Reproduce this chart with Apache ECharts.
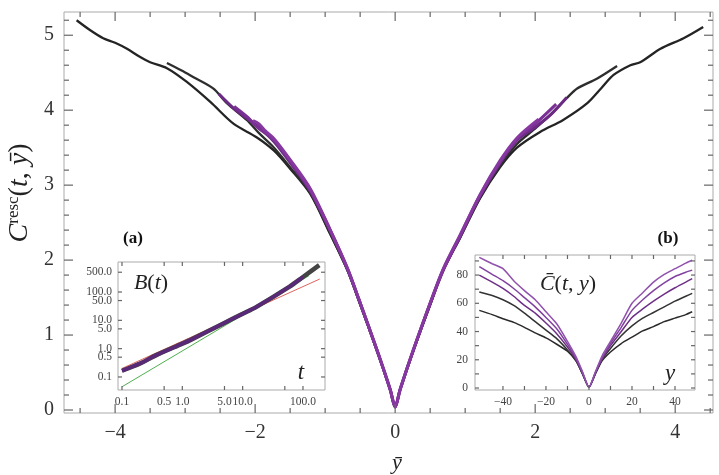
<!DOCTYPE html>
<html><head><meta charset="utf-8">
<script src="https://cdn.jsdelivr.net/npm/echarts@6/dist/echarts.min.js"></script>
<style>html,body{margin:0;padding:0;background:#fff}#c{width:719px;height:475px}</style>
</head><body><div id="c"></div>
<script>
// ---------- main panel ----------
const mainXLabels = [-4, -2, 0, 2, 4];
const mainXMinorTicks = [-4.5,-3.5,-3,-2.5,-1.5,-1,-0.5,0.5,1,1.5,2.5,3,3.5,4.5];
const mainYLabels = [0, 1, 2, 3, 4, 5];
const mainYMinorTicks = [0.2,0.4,0.6,0.8,1.2,1.4,1.6,1.8,2.2,2.4,2.6,2.8,3.2,3.4,3.6,3.8,4.2,4.4,4.6,4.8,5.2];

const blackOuterX = [-4.55,-4.36,-4.17,-4.0,-3.83,-3.66,-3.5,-3.26,-2.98,-2.64,-2.31,-1.98,-1.73,-1.5,-1.21,-0.93,-0.68,-0.52,-0.26,-0.07,0,0.07,0.26,0.52,0.68,0.93,1.21,1.5,1.74,2.07,2.4,2.74,2.95,3.12,3.36,3.5,3.79,4.12,4.4];
const blackOuterY = [5.2,5.07,4.96,4.9,4.82,4.72,4.64,4.56,4.38,4.11,3.82,3.64,3.46,3.22,2.88,2.35,1.86,1.46,0.79,0.27,0.04,0.27,0.79,1.45,1.85,2.3,2.82,3.24,3.5,3.71,3.87,4.09,4.3,4.47,4.6,4.64,4.82,4.96,5.11];
const blackInnerX = [-3.26,-3.05,-2.88,-2.6,-2.4,-2.12,-1.93,-1.73,-1.5,-1.21,-0.93,-0.68,-0.52,-0.26,-0.07,0,0.07,0.26,0.52,0.68,0.93,1.21,1.5,1.74,1.98,2.21,2.45,2.6,2.88,3.17];
const blackInnerY = [4.63,4.53,4.44,4.29,4.09,3.87,3.68,3.5,3.24,2.89,2.36,1.86,1.46,0.79,0.27,0.04,0.27,0.79,1.46,1.86,2.31,2.83,3.26,3.55,3.74,3.93,4.16,4.29,4.42,4.59];
const purpleAX = [-2.52,-2.3,-2.1,-1.98,-1.73,-1.5,-1.21,-0.93,-0.68,-0.52,-0.26,-0.07,0,0.07,0.26,0.52,0.69,0.93,1.21,1.5,1.74,1.98,2.21,2.45];
const purpleAY = [4.22,4.02,3.88,3.8,3.58,3.3,2.92,2.4,1.88,1.48,0.8,0.27,0.04,0.27,0.8,1.47,1.87,2.32,2.85,3.3,3.6,3.76,3.93,4.17];
const purpleBX = [-2.3,-2.1,-1.98,-1.73,-1.5,-1.21,-0.93,-0.68,-0.52,-0.26,-0.07,0,0.07,0.26,0.52,0.69,0.93,1.21,1.5,1.74,1.98,2.3];
const purpleBY = [4.05,3.9,3.78,3.6,3.32,2.93,2.4,1.88,1.48,0.8,0.27,0.04,0.27,0.8,1.47,1.88,2.33,2.86,3.31,3.62,3.8,4.08];
const purpleCX = [-2.03,-1.95,-1.85,-1.73,-1.5,-1.21,-0.93,-0.68,-0.52,-0.26,-0.07,0,0.07,0.26,0.52,0.69,0.93,1.21,1.5,1.74,2.05];
const purpleCY = [3.86,3.82,3.72,3.62,3.34,2.95,2.41,1.89,1.48,0.8,0.27,0.04,0.27,0.8,1.48,1.89,2.34,2.87,3.33,3.63,3.88];

// ---------- inset (a): B(t), log-log ----------
const aXLabels = [0.1, 0.5, 1, 5, 10, 100];
const aXTicks = [0.1, 0.5, 1, 5, 10, 50, 100];
const aYLabels = [0.1, 0.5, 1, 5, 10, 50, 100, 500];
const tB = [0.1, 0.2, 0.37, 1, 1.35, 4.8, 10, 17, 60, 100, 186];
const bBlack = [0.166, 0.30, 0.59, 1.5, 2.0, 7.8, 17, 30, 155, 340, 890];
const tBPurple = [0.1, 0.2, 0.37, 1, 1.35, 4.8, 10, 17, 60, 100];
const bPurple = [0.166, 0.30, 0.59, 1.5, 2.0, 7.8, 17, 30, 155, 340];
const tGreen = [0.1, 126];
const bGreen = [0.045, 380];
const tRed = [0.1, 190];
const bRed = [0.2, 288];

// ---------- inset (b): C(t,y) ----------
const bXLabels = [-40, -20, 0, 20, 40];
const bXTicks = [-40,-30,-20,-10,0,10,20,30,40];
const bYLabels = [0, 20, 40, 60, 80];
const bYTicks = [0,10,20,30,40,50,60,70,80,90];
const yGrid = [-51,-45,-40,-35,-30,-25,-20,-15,-10,-6,-3,0,3,6,10,15,20,25,30,35,40,45,48];
const cCurve1 = [55,52,49,46.5,43,39,35.5,31,26,19,10,0.5,10,19,25.5,31.5,36,40.5,43.5,47,49.5,52,54];
const cCurve2 = [68,65.5,62.5,58.5,53,47,41,35,27,19.5,10,0.5,10.5,20,28,37,44,49.5,53.5,57.5,61.5,65,67];
const cCurve3 = [80,75,70.5,65,58.5,53,46,38.5,29,20,10.5,0.5,11,20.5,30,40,50,56,61.5,66.5,71,75,77.5];
const cCurve4 = [86,80.5,76,70.5,64,57.5,50,42,31,21,11,0.5,11,21,31.5,43,55,62.5,69,74.5,79,82,83.5];
const cCurve5 = [92.5,88,84.5,76,69,62.5,54,45.5,33,22,11.5,0.5,11.5,22.5,33,46,60,67.5,75,80.5,84.5,88.5,90.5];

const zip = (xs, ys) => xs.map((x, i) => [x, ys[i]]);
const zipLog = (xs, ys) => xs.map((x, i) => [Math.log10(x), Math.log10(ys[i])]);
const minus = v => (v < 0 ? '\u2212' + (-v) : String(v));
const SERIF = 'Liberation Serif';
const frame = '#aaaaaa';
const tickColor = '#666';

function axis(grid, pos, min, max, labels, opts) {
  return {
    type: 'value', gridIndex: grid, position: pos, min, max,
    axisLine: { show: false, onZero: false },
    splitLine: { show: false },
    axisTick: { show: false },
    axisLabel: { show: !!labels, customValues: labels || [], margin: opts.margin,
      fontFamily: SERIF, fontSize: opts.fontSize, color: opts.color || '#333',
      formatter: opts.formatter || minus }
  };
}

// frame ticks drawn through the axes' own scales (api.coord)
function tickSeries(axisIdx, dir, vals, other, len, z) {
  return {
    type: 'custom', coordinateSystem: 'cartesian2d', xAxisIndex: axisIdx, yAxisIndex: axisIdx, silent: true, clip: false, z: z,
    encode: { x: 0, y: 1 },
    data: vals.map(v => dir === 'x' ? [v, other[0]] : [other[0], v]),
    renderItem: function (params, api) {
      const v = api.value(dir === 'x' ? 0 : 1);
      const st = { stroke: tickColor, lineWidth: 1.2, fill: null };
      if (dir === 'x') {
        const a = api.coord([v, other[0]]), b = api.coord([v, other[1]]);
        return { type: 'group', children: [
          { type: 'line', shape: { x1: a[0], y1: a[1], x2: a[0], y2: a[1] - len }, style: st },
          { type: 'line', shape: { x1: b[0], y1: b[1], x2: b[0], y2: b[1] + len }, style: st } ] };
      }
      const a = api.coord([other[0], v]), b = api.coord([other[1], v]);
      return { type: 'group', children: [
        { type: 'line', shape: { x1: a[0], y1: a[1], x2: a[0] + len, y2: a[1] }, style: st },
        { type: 'line', shape: { x1: b[0], y1: b[1], x2: b[0] - len, y2: b[1] }, style: st } ] };
    }
  };
}

const logFmt = v => Math.pow(10, v).toFixed(1);
const L = a => a.map(v => Math.log10(v));

const mainXmin = -4.73, mainXmax = 4.54, mainYmin = -0.04, mainYmax = 5.31;
const aXmin = -1.066, aXmax = 2.365, aYmin = -1.46, aYmax = 3.06;
const bXmin = -53, bXmax = 49.3, bYmin = -1.4, bYmax = 94.2;

const mainOpts = { fontSize: 20, margin: 10 };
const insetOpts = { fontSize: 11.5, margin: 6, color: '#444' };

const option = {
  animation: false,
  backgroundColor: '#fff',
  grid: [
    { left: 64, top: 12, width: 649, height: 401, show: true, borderColor: frame, borderWidth: 1, backgroundColor: 'transparent' },
    { left: 118, top: 262, width: 207, height: 128, show: true, borderColor: frame, borderWidth: 1, backgroundColor: '#fff', z: 3 },
    { left: 475, top: 255, width: 220, height: 135, show: true, borderColor: frame, borderWidth: 1, backgroundColor: '#fff', z: 3 }
  ],
  xAxis: [
    axis(0, 'bottom', mainXmin, mainXmax, mainXLabels, mainOpts),
    axis(1, 'bottom', aXmin, aXmax, L(aXLabels), Object.assign({}, insetOpts, { formatter: logFmt })),
    axis(2, 'bottom', bXmin, bXmax, bXLabels, insetOpts)
  ],
  yAxis: [
    axis(0, 'left', mainYmin, mainYmax, mainYLabels, mainOpts),
    axis(1, 'left', aYmin, aYmax, L(aYLabels), Object.assign({}, insetOpts, { formatter: logFmt })),
    axis(2, 'left', bYmin, bYmax, bYLabels, Object.assign({}, insetOpts, { margin: 7 }))
  ],
  series: [
    // main frame ticks
    tickSeries(0, 'x', mainXLabels, [mainYmin, mainYmax], 9, 4),
    tickSeries(0, 'x', mainXMinorTicks, [mainYmin, mainYmax], 5, 4),
    tickSeries(0, 'y', mainYLabels, [mainXmin, mainXmax], 9, 4),
    tickSeries(0, 'y', mainYMinorTicks, [mainXmin, mainXmax], 5, 4),
    // main curves
    { type: 'line', xAxisIndex: 0, yAxisIndex: 0, data: zip(blackOuterX, blackOuterY), showSymbol: false, smooth: 0.3, lineStyle: { color: '#242424', width: 2.3 } },
    { type: 'line', xAxisIndex: 0, yAxisIndex: 0, data: zip(blackInnerX, blackInnerY), showSymbol: false, smooth: 0.3, lineStyle: { color: '#2e2e2e', width: 2.3 } },
    { type: 'line', xAxisIndex: 0, yAxisIndex: 0, data: zip(purpleAX, purpleAY), showSymbol: false, smooth: 0.3, lineStyle: { color: '#6c2a85', width: 3 } },
    { type: 'line', xAxisIndex: 0, yAxisIndex: 0, data: zip(purpleBX, purpleBY), showSymbol: false, smooth: 0.3, lineStyle: { color: '#7a3094', width: 3 } },
    { type: 'line', xAxisIndex: 0, yAxisIndex: 0, data: zip(purpleCX, purpleCY), showSymbol: false, smooth: 0.3, lineStyle: { color: '#8638a0', width: 3 } },
    // inset a
    tickSeries(1, 'x', L(aXTicks), [aYmin, aYmax], 4, 8),
    tickSeries(1, 'y', L(aYLabels), [aXmin, aXmax], 4, 8),
    { type: 'line', xAxisIndex: 1, yAxisIndex: 1, z: 5, data: zipLog(tGreen, bGreen), showSymbol: false, lineStyle: { color: '#4fb04f', width: 1 } },
    { type: 'line', xAxisIndex: 1, yAxisIndex: 1, z: 5, data: zipLog(tRed, bRed), showSymbol: false, lineStyle: { color: '#e0645e', width: 1 } },
    { type: 'line', xAxisIndex: 1, yAxisIndex: 1, z: 6, data: zipLog(tB, bBlack), showSymbol: false, smooth: 0.3, lineStyle: { color: '#444', width: 4.5 } },
    { type: 'line', xAxisIndex: 1, yAxisIndex: 1, z: 7, data: zipLog(tBPurple, bPurple), showSymbol: false, smooth: 0.3, lineStyle: { color: '#5a2878', width: 3.5 } },
    // inset b
    tickSeries(2, 'x', bXTicks, [bYmin, bYmax], 4, 8),
    tickSeries(2, 'y', bYTicks, [bXmin, bXmax], 4, 8),
    { type: 'line', xAxisIndex: 2, yAxisIndex: 2, z: 5, data: zip(yGrid, cCurve1), showSymbol: false, smooth: 0.2, lineStyle: { color: '#2a2a2a', width: 1.5 } },
    { type: 'line', xAxisIndex: 2, yAxisIndex: 2, z: 5, data: zip(yGrid, cCurve2), showSymbol: false, smooth: 0.2, lineStyle: { color: '#333', width: 1.5 } },
    { type: 'line', xAxisIndex: 2, yAxisIndex: 2, z: 5, data: zip(yGrid, cCurve3), showSymbol: false, smooth: 0.2, lineStyle: { color: '#6e2f86', width: 1.5 } },
    { type: 'line', xAxisIndex: 2, yAxisIndex: 2, z: 5, data: zip(yGrid, cCurve4), showSymbol: false, smooth: 0.2, lineStyle: { color: '#8242a0', width: 1.5 } },
    { type: 'line', xAxisIndex: 2, yAxisIndex: 2, z: 5, data: zip(yGrid, cCurve5), showSymbol: false, smooth: 0.2, lineStyle: { color: '#9052ac', width: 1.5 } }
  ],
  graphic: [
    { type: 'text', x: 133, y: 239, z: 100, style: { text: '(a)', font: 'bold 17px "Liberation Serif"', fill: '#111', align: 'center', verticalAlign: 'middle', textAlign: 'center', textVerticalAlign: 'middle' } },
    { type: 'text', x: 668, y: 239, z: 100, style: { text: '(b)', font: 'bold 17px "Liberation Serif"', fill: '#111', align: 'center', verticalAlign: 'middle', textAlign: 'center', textVerticalAlign: 'middle' } },
    { type: 'text', x: 151, y: 283, z: 100, style: { text: '{i|B}{n|(}{i|t}{n|)}', align: 'center', verticalAlign: 'middle', textAlign: 'center', textVerticalAlign: 'middle',
      rich: { i: { fontFamily: SERIF, fontStyle: 'italic', fontSize: 22, fill: '#222' }, n: { fontFamily: SERIF, fontSize: 22, fill: '#222' } } } },
    { type: 'text', x: 301, y: 373, z: 100, style: { text: 't', font: 'italic 23px "Liberation Serif"', fill: '#222', align: 'center', verticalAlign: 'middle', textAlign: 'center', textVerticalAlign: 'middle' } },
    { type: 'text', x: 568, y: 284, z: 100, style: { text: '{i|C\u0304}{n|(}{i|t}{n|, }{i|y}{n|)}', align: 'center', verticalAlign: 'middle', textAlign: 'center', textVerticalAlign: 'middle',
      rich: { i: { fontFamily: SERIF, fontStyle: 'italic', fontSize: 22, fill: '#222' }, n: { fontFamily: SERIF, fontSize: 22, fill: '#222' } } } },
    { type: 'text', x: 670, y: 374, z: 100, style: { text: 'y', font: 'italic 23px "Liberation Serif"', fill: '#222', align: 'center', verticalAlign: 'middle', textAlign: 'center', textVerticalAlign: 'middle' } },
    { type: 'text', x: 397, y: 463, z: 100, style: { text: '\u0233', font: 'italic 22px "Liberation Serif"', fill: '#222', align: 'center', verticalAlign: 'middle', textAlign: 'center', textVerticalAlign: 'middle' } },
    { type: 'text', x: 20, y: 193, rotation: Math.PI / 2, z: 100, style: { text: '{i|C}{s|resc}{n|(}{i|t}{n|, }{i|\u0233}{n|)}', align: 'center', verticalAlign: 'middle', textAlign: 'center', textVerticalAlign: 'middle',
      rich: { i: { fontFamily: SERIF, fontStyle: 'italic', fontSize: 28, fill: '#222' }, n: { fontFamily: SERIF, fontSize: 28, fill: '#222' },
              s: { fontFamily: SERIF, fontSize: 17, fill: '#222', verticalAlign: 'top', padding: [0, 0, 12, 0] } } } }
  ]
};

const chart = echarts.init(document.getElementById('c'), null, { renderer: 'canvas' });
chart.setOption(option);
</script>
</body></html>
